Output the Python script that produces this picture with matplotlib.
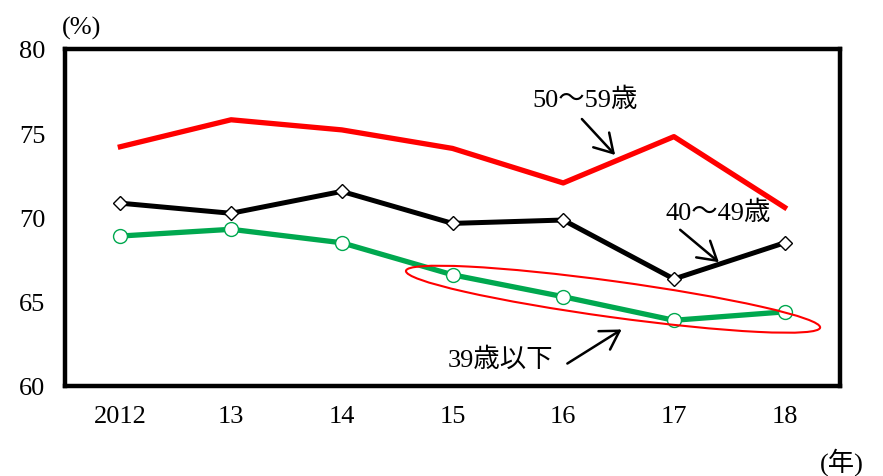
import matplotlib
matplotlib.use("Agg")
import matplotlib.pyplot as plt
from matplotlib.patches import Ellipse
import matplotlib.transforms as mtransforms

plt.rcParams['font.family'] = ['Liberation Serif', 'Noto Sans CJK JP']

years = ["2012", "13", "14", "15", "16", "17", "18"]
age_50_59 = [74.2, 75.8, 75.2, 74.1, 72.05, 74.8, 70.6]
age_40_49 = [70.85, 70.25, 71.55, 69.65, 69.85, 66.35, 68.5]
age_39_under = [68.9, 69.3, 68.5, 66.6, 65.3, 63.9, 64.4]
yticks = [60, 65, 70, 75, 80]

W, H = 883, 477
FS = 19
fig = plt.figure(figsize=(W / 100, H / 100), dpi=100)
ax = fig.add_axes([65 / W, 1 - 387 / H, (840 - 65) / W, (387 - 50) / H])

x = list(range(len(years)))
ax.plot(x, age_50_59, color='#FF0000', lw=3.8, zorder=3)
ax.plot(x, age_40_49, color='black', lw=3.6, marker='D', ms=7.5, mfc='white',
        mec='black', mew=1.0, zorder=4)
ax.plot(x, age_39_under, color='#00A84F', lw=3.8, marker='o', ms=10, mfc='white',
        mec='#00A84F', mew=1.0, zorder=4)

ax.set_xlim(-0.5, len(years) - 0.5)
ax.set_ylim(60, 80)
ax.set_yticks(yticks)
ax.set_yticklabels([str(v) for v in yticks])
ax.set_xticks(x)
ax.set_xticklabels(years)
ax.tick_params(length=0, labelsize=FS, pad=14)
ax.tick_params(axis='y', pad=14)
for s in ax.spines.values():
    s.set_linewidth(3.2)

# unit labels
fig.text(82 / W, 1 - 28 / H, "(%)", ha='center', va='center', fontsize=FS)
fig.text(842 / W, 1 - 462 / H, "(年)", ha='center', va='center', fontsize=FS)

# ellipse highlighting the under-39 series
trans = mtransforms.ScaledTranslation(4.45, 65.15, ax.transData)
ell = Ellipse((0, 0), width=418, height=36, angle=-7.8, fill=False,
              edgecolor='#FF0000', lw=1.5, transform=trans, zorder=5)
fig.add_artist(ell)

# annotations
def px(xp, yp):
    return (xp / W, 1 - yp / H)

arrow = dict(arrowstyle='->,head_length=0.5,head_width=0.3', color='black',
             lw=1.8, mutation_scale=26)
labels = [
    ("50～59歳", (585, 100), (580, 118), (617, 158)),
    ("40～49歳", (718, 213), (678, 229), (721, 265)),
    ("39歳以下", (500, 360), (565, 366), (624, 329)),
]
for text, tpos, start, end in labels:
    fig.text(tpos[0] / W, 1 - tpos[1] / H, text, ha='center', va='center',
             fontsize=FS, zorder=6)
    ax.annotate("", xy=px(*end), xycoords='figure fraction',
                xytext=px(*start), textcoords='figure fraction',
                arrowprops=arrow, zorder=6)

fig.savefig("out.png", dpi=100)
